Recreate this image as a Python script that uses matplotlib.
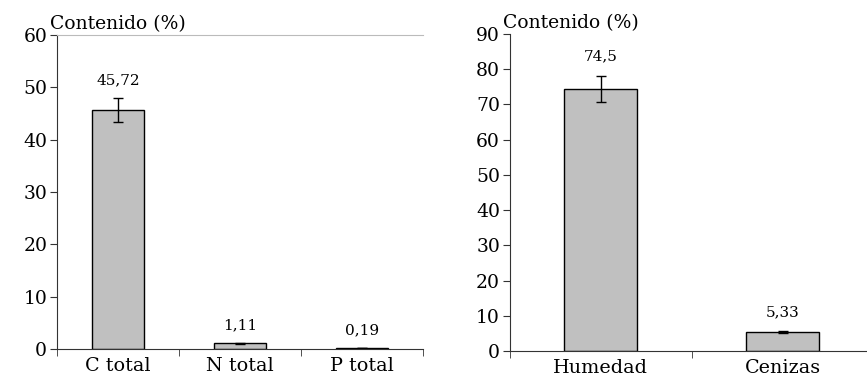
import matplotlib.pyplot as plt
import numpy as np

# datos
cat_izq = ["C total", "N total", "P total"]
val_izq = [45.72, 1.11, 0.19]
err_izq = [2.3, 0.1, 0.05]
etq_izq = ["45,72", "1,11", "0,19"]

cat_der = ["Humedad", "Cenizas"]
val_der = [74.5, 5.33]
err_der = [3.7, 0.3]
etq_der = ["74,5", "5,33"]

plt.rcParams['font.family'] = 'DejaVu Serif'

fig = plt.figure(figsize=(8.67, 3.78), dpi=100)

def panel(ax, cats, vals, errs, etqs, ymax, paso, ancho, desp):
    x = np.arange(len(cats))
    ax.bar(x, vals, width=ancho, color='#c0c0c0', edgecolor='black', linewidth=1,
           yerr=errs, capsize=3.5, error_kw=dict(elinewidth=1, capthick=1, ecolor='black'))
    for xi, v, e, t in zip(x, vals, errs, etqs):
        ax.text(xi, v + e + desp, t, ha='center', va='bottom', fontsize=11)
    ax.set_ylim(0, ymax)
    ax.set_yticks(np.arange(0, ymax + 1, paso))
    ax.set_xticks(x)
    ax.set_xticklabels(cats, fontsize=13.8)
    ax.set_xticks(np.arange(len(cats) + 1) - 0.5, minor=True)
    ax.tick_params(axis='x', which='major', length=0, pad=6)
    ax.tick_params(axis='x', which='minor', length=5, direction='out', color='#333333')
    ax.tick_params(axis='y', length=5, direction='out', labelsize=13.5, pad=2, color='#333333')
    ax.spines['right'].set_visible(False)
    ax.spines['left'].set_color('#333333')
    ax.spines['bottom'].set_color('#333333')
    ax.set_xlim(-0.5, len(cats) - 0.5)
    ax.text(-0.02, 1.005, "Contenido (%)", transform=ax.transAxes, ha='left',
            va='bottom', fontsize=13.5)

ax1 = fig.add_axes([0.0657, 0.0767, 0.4222, 0.8307])
panel(ax1, cat_izq, val_izq, err_izq, etq_izq, 60, 10, 0.42, 2.0)
ax1.spines['top'].set_color('#bbbbbb')

ax2 = fig.add_axes([0.588, 0.0714, 0.42, 0.8386])
panel(ax2, cat_der, val_der, err_der, etq_der, 90, 10, 0.40, 3.5)
ax2.spines['top'].set_visible(False)

fig.savefig("out.png", dpi=100)
